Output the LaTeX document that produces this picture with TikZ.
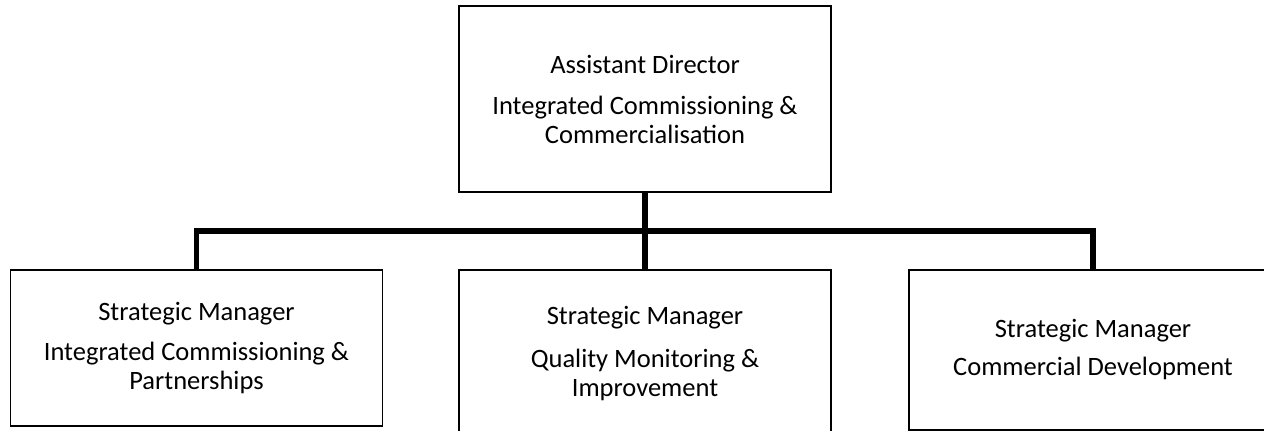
\documentclass[tikz,border=0pt]{standalone}
\usepackage{fontspec}
\setmainfont{Carlito}

\tikzset{
	unit/.style={draw, line width=1.3pt, minimum width=372pt, inner sep=0pt,
		align=center, font=\fontsize{26.5}{29}\selectfont},
	link/.style={line width=5.5pt},
}

\begin{document}
\begin{tikzpicture}[x=1pt,y=-1pt]
	\useasboundingbox (0,0) rectangle (1264,431);
	\node[unit, minimum height=186pt] (director) at (645,99)
		{Assistant Director\\[12pt]Integrated Commissioning \&\\Commercialisation};
	\node[unit, minimum height=156pt] (icp) at (196.5,348)
		{Strategic Manager\\[11pt]Integrated Commissioning \&\\Partnerships};
	\node[unit, minimum height=168pt] (qmi) at (645,354)
		{Strategic Manager\\[14pt]Quality Monitoring \&\\Improvement};
	\node[unit, minimum width=368pt, minimum height=160pt] (cd) at (1093,350)
		{Strategic Manager\\[9pt]Commercial Development};
	\coordinate (bar) at (645,231);
	\draw[link] (director.south) -- (bar);
	\draw[link] (icp.north) |- (bar) -| (cd.north);
	\draw[link] (bar) -- (qmi.north);
\end{tikzpicture}
\end{document}
